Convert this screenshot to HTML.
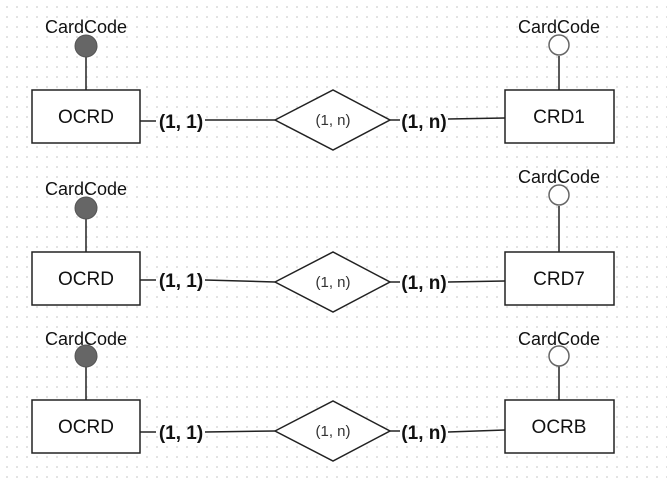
<!DOCTYPE html>
<html><head><style>
body{margin:0;width:667px;height:484px;overflow:hidden;background:#fff;
background-image:radial-gradient(circle,#d0d0d0 0.7px,transparent 1px);background-size:10px 10px;background-position:2px 2px;}
svg{position:absolute;left:0;top:0}
text{font-family:"Liberation Sans",sans-serif}
</style></head><body>
<svg width="667" height="484" xmlns="http://www.w3.org/2000/svg">
<g stroke="#222" stroke-width="1.5" fill="none">
<line x1="86" y1="57" x2="86" y2="90"/><line x1="559" y1="56" x2="559" y2="90"/>
<rect x="32" y="90" width="108" height="53" fill="#fff"/><rect x="505" y="90" width="109" height="53" fill="#fff"/>
<line x1="140" y1="121" x2="156" y2="121"/><line x1="205" y1="120" x2="275" y2="120"/>
<polygon points="275,120 333,90 390,120 333,150" fill="#fff"/>
<line x1="390" y1="120" x2="400" y2="120"/><line x1="448" y1="119" x2="505" y2="118"/>

<line x1="86" y1="219" x2="86" y2="252"/><line x1="559" y1="206" x2="559" y2="252"/>
<rect x="32" y="252" width="108" height="53" fill="#fff"/><rect x="505" y="252" width="109" height="53" fill="#fff"/>
<line x1="140" y1="280" x2="156" y2="280"/><line x1="205" y1="280" x2="275" y2="282"/>
<polygon points="275,282 333,252 390,282 333,312" fill="#fff"/>
<line x1="390" y1="282" x2="400" y2="282"/><line x1="448" y1="282" x2="505" y2="281"/>

<line x1="86" y1="367" x2="86" y2="400"/><line x1="559" y1="366" x2="559" y2="400"/>
<rect x="32" y="400" width="108" height="53" fill="#fff"/><rect x="505" y="400" width="109" height="53" fill="#fff"/>
<line x1="140" y1="432" x2="156" y2="432"/><line x1="205" y1="432" x2="275" y2="431"/>
<polygon points="275,431 333,401 390,431 333,461" fill="#fff"/>
<line x1="390" y1="431" x2="400" y2="431"/><line x1="448" y1="432" x2="505" y2="430"/>
</g>
<g fill="#666" stroke="#555">
<circle cx="86" cy="46" r="11"/><circle cx="86" cy="208" r="11"/><circle cx="86" cy="356" r="11"/>
</g>
<g fill="#fff" stroke="#666" stroke-width="1.5">
<circle cx="559" cy="45" r="10"/><circle cx="559" cy="195" r="10"/><circle cx="559" cy="356" r="10"/>
</g>
<g font-size="18" fill="#111" text-anchor="middle">
<text x="86" y="33">CardCode</text><text x="559" y="33">CardCode</text>
<text x="86" y="195">CardCode</text><text x="559" y="183">CardCode</text>
<text x="86" y="345">CardCode</text><text x="559" y="345">CardCode</text>
</g>
<g font-size="19" fill="#111" text-anchor="middle">
<text x="86" y="123">OCRD</text><text x="559" y="123">CRD1</text>
<text x="86" y="285">OCRD</text><text x="559" y="285">CRD7</text>
<text x="86" y="433">OCRD</text><text x="559" y="433">OCRB</text>
</g>
<g font-size="15" fill="#333" text-anchor="middle">
<text x="333" y="125">(1, n)</text><text x="333" y="287">(1, n)</text><text x="333" y="436">(1, n)</text>
</g>
<g font-size="19" font-weight="bold" fill="#111" text-anchor="middle">
<text x="181" y="128">(1, 1)</text><text x="424" y="128">(1, n)</text>
<text x="181" y="287">(1, 1)</text><text x="424" y="289">(1, n)</text>
<text x="181" y="439">(1, 1)</text><text x="424" y="439">(1, n)</text>
</g>
</svg>
</body></html>
